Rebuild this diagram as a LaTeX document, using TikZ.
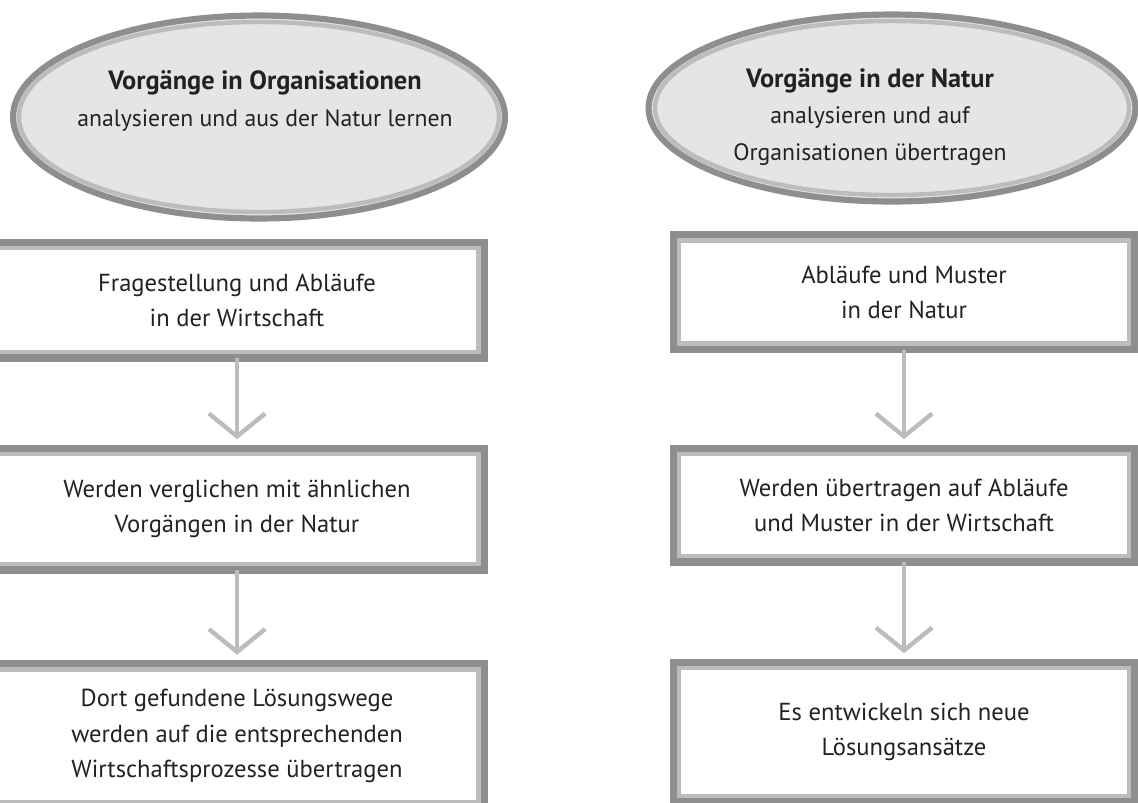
\documentclass[tikz,border=0pt]{standalone}
\usepackage{fontspec}
\setmainfont{PT Sans}
\usetikzlibrary{shapes.geometric,arrows.meta,positioning}
\definecolor{bubblefill}{HTML}{E3E5E7}
\definecolor{rimdark}{HTML}{8E8E8E}
\definecolor{rimlight}{HTML}{BCBCBC}
\definecolor{inkgray}{HTML}{222222}
\tikzset{
  bubble/.style={ellipse, fill=bubblefill, draw=rimdark, line width=3.5pt, outer sep=0pt},
  bubblerim/.style={draw=rimlight, line width=2.5pt},
  bubbletext/.style={align=center, text=inkgray, font=\fontsize{13.5}{21}\selectfont},
  stepbox/.style={rectangle, draw=rimdark, line width=4pt, fill=white, outer sep=0pt,
    align=center, text=inkgray, font=\fontsize{14}{20}\selectfont},
  boxrim/.style={draw=rimlight, line width=2.5pt},
  flow/.style={draw=rimlight, line width=2pt, shorten >=5pt,
    -{Straight Barb[length=13pt,width=32pt,line width=2.5pt]}},
}
\begin{document}
\begin{tikzpicture}[x=0.02cm, y=-0.02cm]
		%%%%% START %%%%%
		\useasboundingbox (0,0) rectangle (1138,802);
		
		\node[bubble, minimum width=9.84cm, minimum height=4.06cm] (orgEll) at (259,117) {};
		\draw[bubblerim] (orgEll.center) ellipse [x radius=240, y radius=95];
		\node[bubbletext] (orgTxt) at (265,101) {{\fontsize{15}{21}\selectfont\bfseries Vorgänge in Organisationen}\\analysieren und aus der Natur lernen};
		
		\node[bubble, minimum width=9.74cm, minimum height=3.74cm] (natEll) at (892,108) {};
		\draw[bubblerim] (natEll.center) ellipse [x radius=237, y radius=87];
		\node[bubbletext] (natTxt) at (870,117) {{\fontsize{15}{21}\selectfont\bfseries Vorgänge in der Natur}\\analysieren und auf\\Organisationen übertragen};
		
		\node[stepbox, minimum width=9.9cm, minimum height=2.32cm] (lBoxA) at (237,300) {Fragestellung und Abläufe\\in der Wirtschaft};
		\node[stepbox, minimum width=9.9cm, minimum height=2.44cm] (lBoxB) at (237,509) {Werden verglichen mit ähnlichen\\Vorgängen in der Natur};
		\node[stepbox, minimum width=9.9cm, minimum height=2.9cm] (lBoxC) at (237,736) {Dort gefundene Lösungswege\\werden auf die entsprechenden\\Wirtschaftsprozesse übertragen};
		
		\node[stepbox, minimum width=9.24cm, minimum height=2.3cm] (rBoxA) at (904,292) {Abläufe und Muster\\in der Natur};
		\node[stepbox, minimum width=9.24cm, minimum height=2.28cm] (rBoxB) at (904,505) {Werden übertragen auf Abläufe\\und Muster in der Wirtschaft};
		\node[stepbox, minimum width=9.24cm, minimum height=2.8cm] (rBoxC) at (904,732) {Es entwickeln sich neue\\Lösungsansätze};
		
		\foreach \b in {lBoxA,lBoxB,lBoxC,rBoxA,rBoxB,rBoxC}
			\draw[boxrim] ([shift={(6,6)}]\b.north west) rectangle ([shift={(-6,-6)}]\b.south east);
		
		\draw[flow] (lBoxA) -- (lBoxB);
		\draw[flow] (lBoxB) -- (lBoxC);
		\draw[flow] (rBoxA) -- (rBoxB);
		\draw[flow] (rBoxB) -- (rBoxC);
		%%%%% END %%%%%
\end{tikzpicture}
\end{document}
